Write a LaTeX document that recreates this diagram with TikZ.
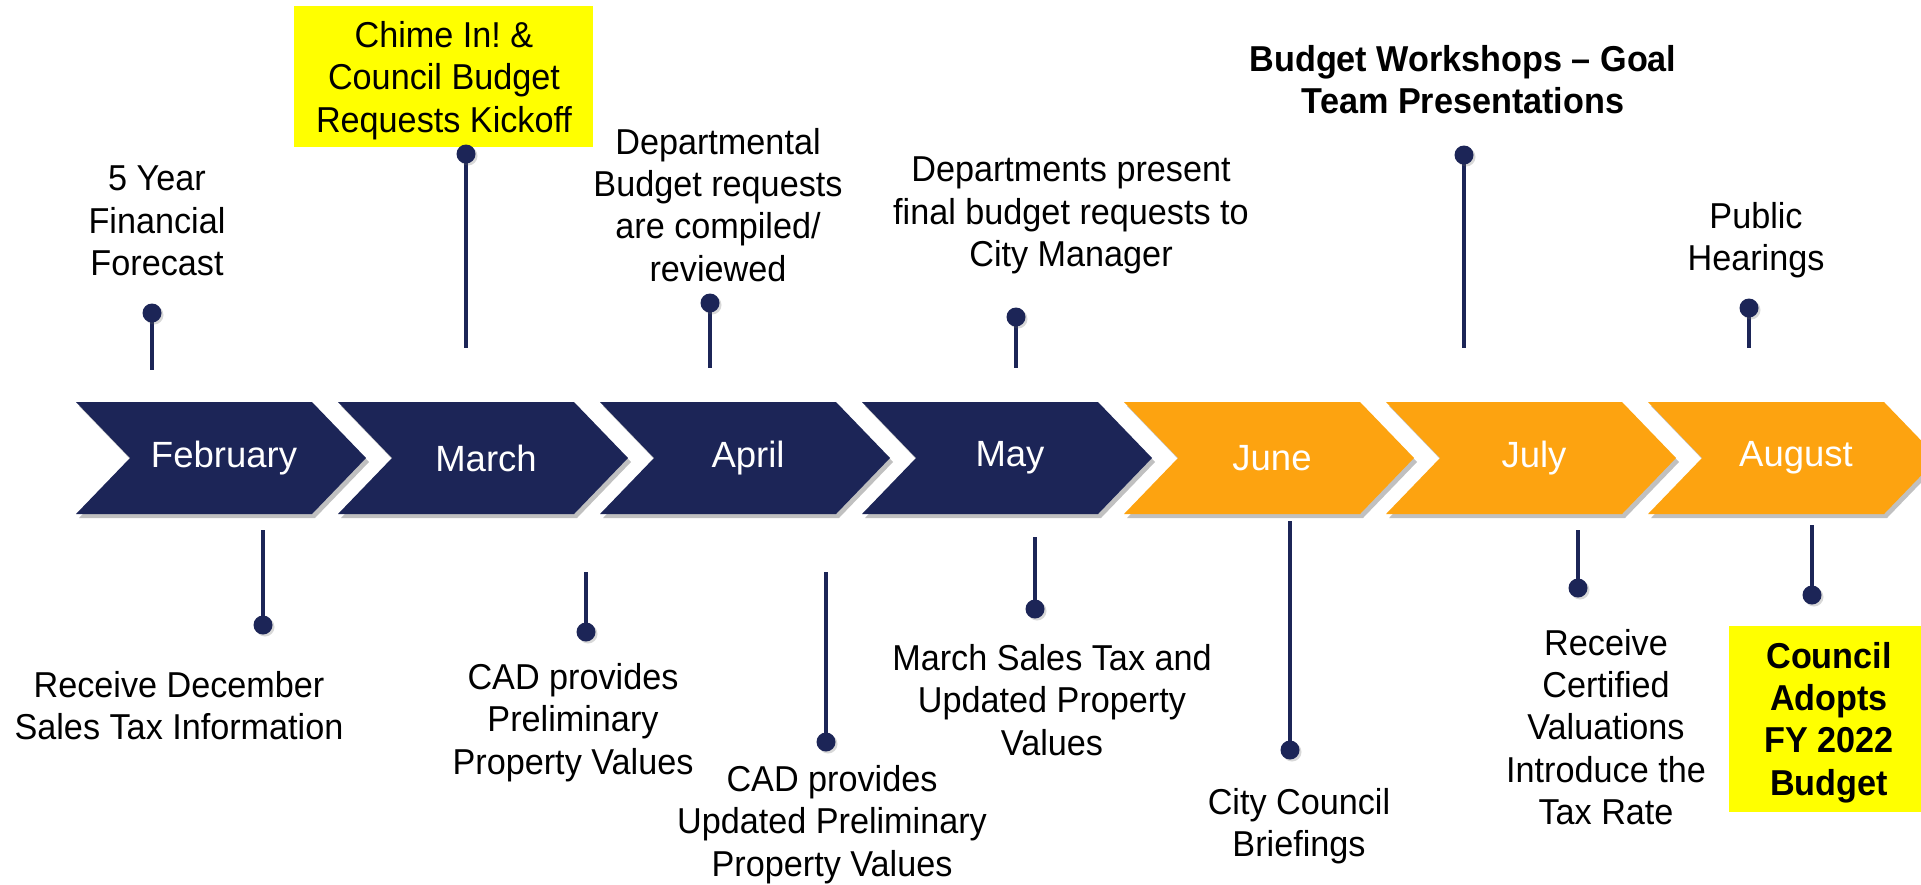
\documentclass[tikz,border=0pt]{standalone}
\usepackage{fontspec}
\setmainfont{Liberation Sans}
\newfontfamily\condfont{Liberation Sans}[FakeStretch=0.95, Ligatures=TeX]
\usetikzlibrary{shadows}
\definecolor{navy}{RGB}{28,37,87}
\definecolor{amber}{RGB}{253,163,16}
\definecolor{hilite}{RGB}{255,255,0}
\frenchspacing
\begin{document}
\begin{tikzpicture}[x=1pt,y=-1pt,
  txt/.style={font=\condfont\fontsize{36}{42.3}\selectfont, align=center, inner sep=0pt, text=black,
    execute at begin node=\strut, execute at end node=\strut},
  boldtxt/.style={txt, font=\condfont\fontsize{36}{42.3}\selectfont\bfseries},
  month/.style={font=\fontsize{36.5}{44}\selectfont, text=white, inner sep=0pt},
  chevshadow/.style={drop shadow={shadow xshift=3pt, shadow yshift=-4pt, opacity=0.35, fill=black!70}},
  dot/.style={circle, fill=navy, minimum size=19pt, inner sep=0pt,
    drop shadow={shadow xshift=2pt, shadow yshift=-2pt, opacity=0.25, fill=black!60}},
  stem/.style={draw=navy, line width=4.5pt},
  hbox/.style={fill=hilite, inner sep=0pt, align=center}
]
\useasboundingbox (0,0) rectangle (1921,884);
\fill[white] (0,0) rectangle (1921,884);
\clip (0,0) rectangle (1921,884);

% chevrons
\foreach \i/\c/\m in {0/navy/February, 1/navy/March, 2/navy/April, 3/navy/May, 4/amber/June, 5/amber/July, 6/amber/August} {
  \pgfmathsetmacro\xo{76+262*\i}
  \fill[\c, chevshadow] (\xo,402) -- ++(236,0) -- ++(54,56) -- ++(-54,56) -- ++(-236,0) -- ++(54,-56) -- cycle;
  \node[month] (m\i) at (\xo+148,458) {\m};
}

% highlight boxes
\node[hbox, minimum width=299pt, minimum height=141pt] (chimebox) at (443.5,76.5) {};
\node[hbox, minimum width=200pt, minimum height=186pt] (adoptbox) at (1829,719) {};

% top texts
\node[txt] (fiveyr) at (157,227) {5 Year\\Financial\\Forecast};
\node[txt] (chime) at (444,83) {Chime In! \&\\Council Budget\\Requests Kickoff};
\node[txt] (dept) at (718,211) {Departmental\\Budget requests\\are compiled/\\reviewed};
\node[txt] (present) at (1071,218) {Departments present\\final budget requests to\\City Manager};
\node[boldtxt] (workshops) at (1463,86) {Budget Workshops – Goal\\Team Presentations};
\node[txt] (public) at (1756,243) {Public\\Hearings};

% bottom texts
\node[txt] (december) at (179,712) {Receive December\\Sales Tax Information};
\node[txt] (cadone) at (573,725) {CAD provides\\Preliminary\\Property Values};
\node[txt] (cadtwo) at (832,827) {CAD provides\\Updated Preliminary\\Property Values};
\node[txt] (marchtax) at (1052,706) {March Sales Tax and\\Updated Property\\Values};
\node[txt] (briefings) at (1299,829) {City Council\\Briefings};
\node[txt] (certified) at (1606,733) {Receive\\Certified\\Valuations\\Introduce the\\Tax Rate};
\node[boldtxt] (adopts) at (1829,725) {Council\\Adopts\\FY 2022\\Budget};

% pin end coordinates
\coordinate (eA) at (152,370);
\coordinate (eB) at (466,348);
\coordinate (eC) at (710,368);
\coordinate (eD) at (1016,368);
\coordinate (eE) at (1464,348);
\coordinate (eF) at (1749,348);
\coordinate (eG) at (263,530);
\coordinate (eH) at (586,572);
\coordinate (eI) at (826,572);
\coordinate (eJ) at (1035,537);
\coordinate (eK) at (1290,521);
\coordinate (eL) at (1578,530);
\coordinate (eM) at (1812,525);

% pin heads
\coordinate (cA) at (152,313);
\coordinate (cB) at (466,154);
\coordinate (cC) at (710,303);
\coordinate (cD) at (1016,317);
\coordinate (cE) at (1464,155);
\coordinate (cF) at (1749,308);
\coordinate (cG) at (263,625);
\coordinate (cH) at (586,632);
\coordinate (cI) at (826,742);
\coordinate (cJ) at (1035,609);
\coordinate (cK) at (1290,750);
\coordinate (cL) at (1578,588);
\coordinate (cM) at (1812,595);

\foreach \p in {A,B,C,D,E,F,G,H,I,J,K,L,M} {
  \draw[stem] (c\p) -- (e\p);
}
\foreach \p in {A,B,C,D,E,F,G,H,I,J,K,L,M} {
  \node[dot] (d\p) at (c\p) {};
}
\end{tikzpicture}
\end{document}
